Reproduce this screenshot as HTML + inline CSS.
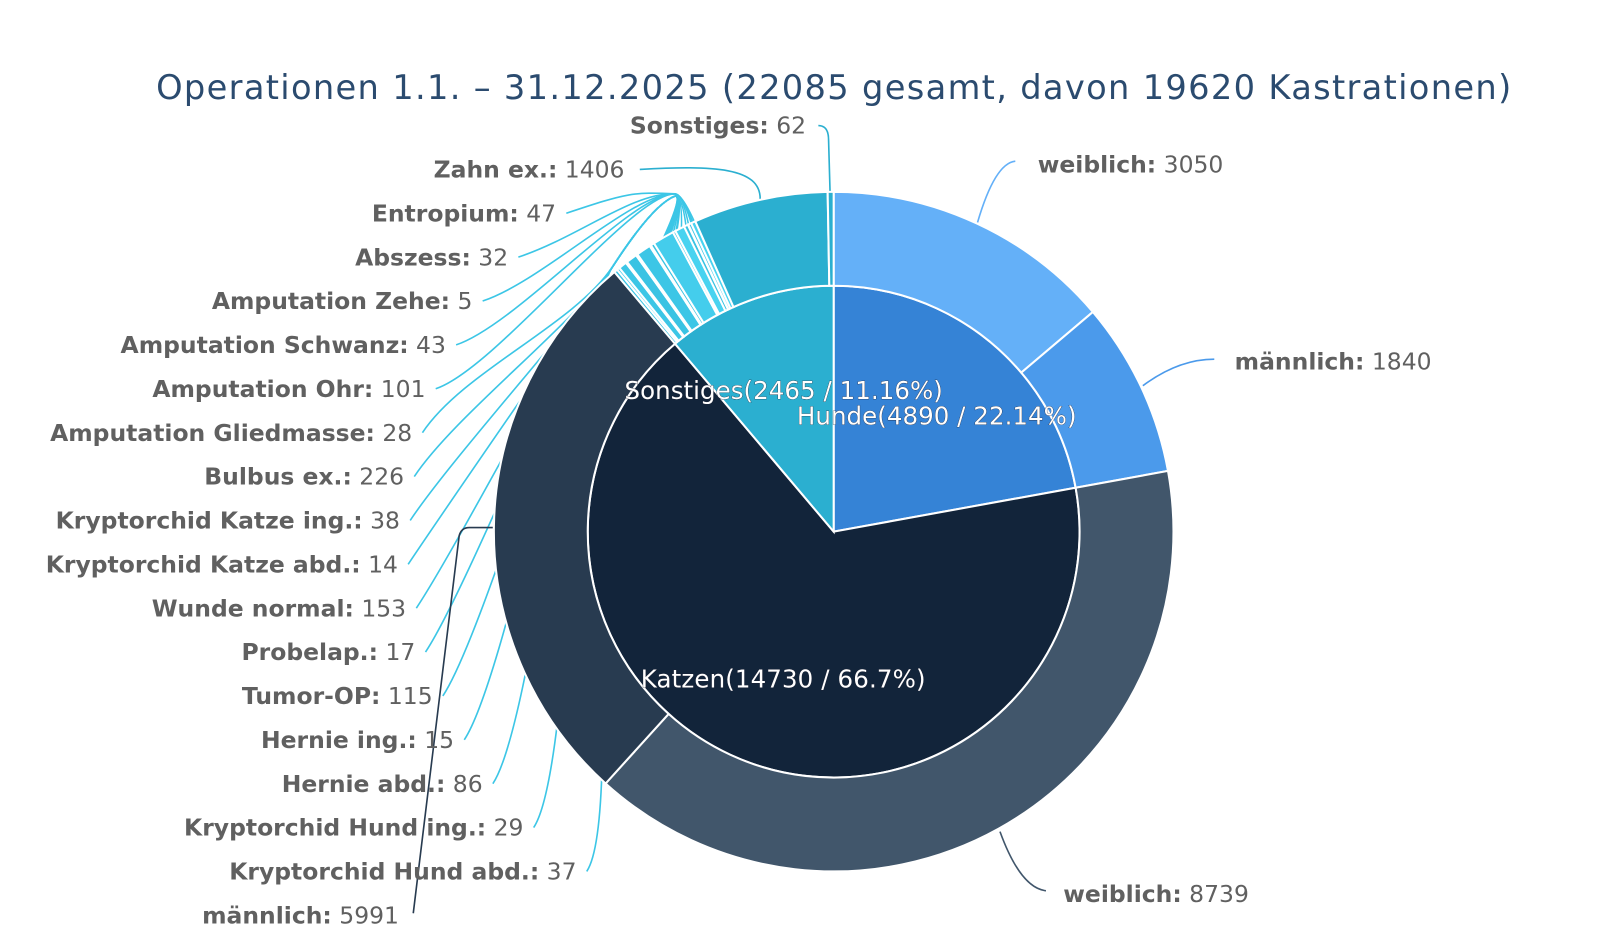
<!DOCTYPE html>
<html><head><meta charset="utf-8">
<style>
html,body{margin:0;padding:0;background:#fff;width:1600px;height:942px;overflow:hidden}
svg{display:block}
.lb{font-family:"DejaVu Sans","Liberation Sans",sans-serif;font-size:23px;fill:#606060}
.lb tspan.b{font-weight:bold}
.in{font-family:"DejaVu Sans","Liberation Sans",sans-serif;font-size:24px;fill:#fff;stroke:#223;stroke-width:0.6px;paint-order:stroke}
</style></head><body>
<svg width="1600" height="942" xmlns="http://www.w3.org/2000/svg">
<g transform="scale(1.0204)">
<text x="817" y="97" text-anchor="middle" font-family="DejaVu Sans,Liberation Sans,sans-serif" font-size="33" fill="#2b4b6f" textLength="1328">Operationen 1.1. – 31.12.2025 (22085 gesamt, davon 19620 Kastrationen)</text>
<g id="lines"></g>
<g id="pie"></g>
<g id="labels"></g>
<text class="in" x="612" y="391" textLength="312">Sonstiges(2465 / 11.16%)</text>
<text class="in" x="781" y="416" textLength="274">Hunde(4890 / 22.14%)</text>
<text class="in" x="628" y="674" textLength="279">Katzen(14730 / 66.7%)</text>
</g>
</svg>
<script>
const NS="http://www.w3.org/2000/svg";
const cx=817,cy=521,R1=241,R2=333,T=22085;
function pt(a,r){a=a*Math.PI/180;return [cx+r*Math.sin(a),cy-r*Math.cos(a)];}
function arc(a0,a1,r0,r1,fill){
  const p=document.createElementNS(NS,"path");
  const la=(a1-a0)>180?1:0;
  let d;
  if(r0==0){const A=pt(a0,r1),B=pt(a1,r1);d=`M${cx},${cy}L${A}A${r1},${r1} 0 ${la} 1 ${B}Z`;}
  else{const A=pt(a0,r1),B=pt(a1,r1),C=pt(a1,r0),D=pt(a0,r0);
  d=`M${A}A${r1},${r1} 0 ${la} 1 ${B}L${C}A${r0},${r0} 0 ${la} 0 ${D}Z`;}
  p.setAttribute("d",d);p.setAttribute("fill",fill);p.setAttribute("stroke","#fff");p.setAttribute("stroke-width","2");
  document.getElementById("pie").appendChild(p);
}
function line(d,c){const p=document.createElementNS(NS,"path");p.setAttribute("d",d);p.setAttribute("fill","none");p.setAttribute("stroke",c);p.setAttribute("stroke-width","1.6");document.getElementById("lines").appendChild(p);}
function label(x,y,b,v,anchor){const t=document.createElementNS(NS,"text");t.setAttribute("class","lb");t.setAttribute("x",x);t.setAttribute("y",y);t.setAttribute("text-anchor",anchor);
 t.innerHTML=`<tspan class="b">${b}:</tspan> ${v}`;document.getElementById("labels").appendChild(t);}
let a=0;
[[4890,"#3583d6"],[14730,"#12243a"],[2465,"#2bafd0"]].forEach(([v,c])=>{const b=a+v/T*360;arc(a,b,0,R1,c);a=b;});
a=0;
[[3050,"#64b0f8"],[1840,"#4b9aeb"],[8739,"#41566b"],[5991,"#283b50"]].forEach(([v,c])=>{const b=a+v/T*360;arc(a,b,R1,R2,c);a=b;});
const subs=[["Kryptorchid Hund abd.",37,565,854],["Kryptorchid Hund ing.",29,513,811],["Hernie abd.",86,473,768],["Hernie ing.",15,445,725],["Tumor-OP",115,424,682],["Probelap.",17,407,639],["Wunde normal",153,398,596],["Kryptorchid Katze abd.",14,390,553],["Kryptorchid Katze ing.",38,392,510],["Bulbus ex.",226,396,467],["Amputation Gliedmasse",28,404,424],["Amputation Ohr",101,417,381],["Amputation Schwanz",43,437,338],["Amputation Zehe",5,463,295],["Abszess",32,498,252],["Entropium",47,545,209],["Zahn ex.",1406,612,166],["Sonstiges",62,790,123]];
const sumS=subs.reduce((s,x)=>s+x[1],0);
const span=360-a;
const pal=["#3ac3e3","#44cdec","#3cc6e6","#48d3f0"];
subs.forEach((s,i)=>{
  const b=a+s[1]/sumS*span;
  const col=(s[0]=="Zahn ex."||s[0]=="Sonstiges")?"#2bafd0":pal[i%4];
  arc(a,b,R1,R2,col);
  const m=(a+b)/2;const P=pt(m,R2-30);
  const x0=s[2]+10,y0=s[3];
  if(s[0]=="Sonstiges"){line(`M${x0+2},${y0} Q${812},${y0} ${812},${y0+14} L${P[0]},${P[1]}`,"#2bafd0");}
  else if(s[0]=="Zahn ex."){line(`M${x0+5},${y0} C700,${y0-4} 745,${y0-2} 745,195`,"#2bafd0");}
  else if(i>=11){line(`M${x0},${y0} C${x0+60},${y0-20} ${620},${188} ${662},${190} Q${672},${192} ${P[0]},${P[1]}`,"#3cc6e6");}
  else{line(`M${x0},${y0} C${x0+40},${y0-60} ${560},${320} ${600},${262} Q${640},${200} ${662},${192} Q${672},${194} ${P[0]},${P[1]}`,"#3cc6e6");}
  label(s[2],s[3]+8,s[0],s[1],"end");
  a=b;
});
line("M995,158 Q975,160 958,218","#64b0f8");label(1017,169,"weiblich",3050,"start");
line("M1190,352 Q1155,352 1120,378","#4b9aeb");label(1210,362,"männlich",1840,"start");
line("M1025,873 Q1000,870 980,815","#41566b");label(1042,884,"weiblich",8739,"start");
line("M405,895 L450,525 Q452,517 460,517 L483,517","#283b50");label(391,905,"männlich",5991,"end");
</script>
</body></html>
